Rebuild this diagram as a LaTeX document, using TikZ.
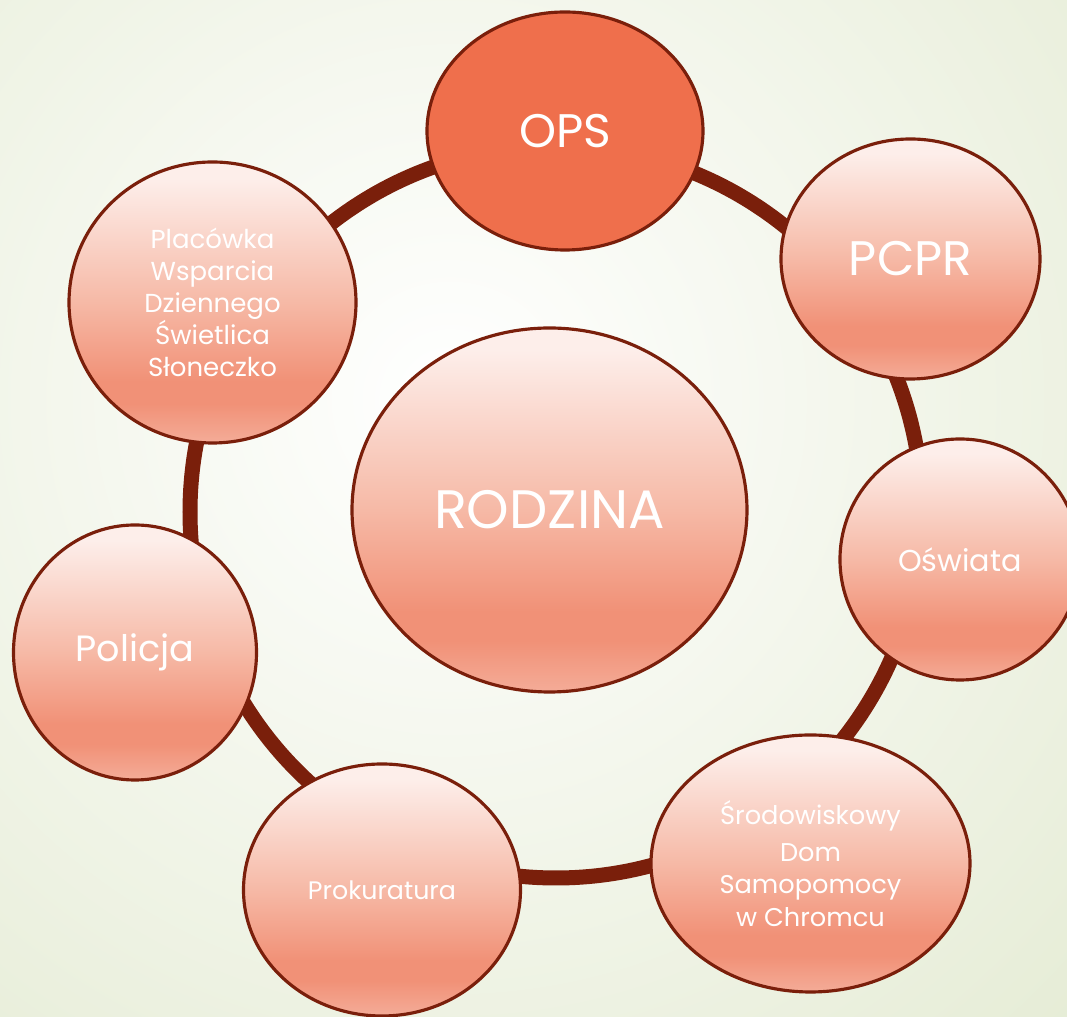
\documentclass[tikz,border=0pt]{standalone}
\usepackage{fontspec}
\setmainfont{Poppins}
\usetikzlibrary{shapes}
\definecolor{rust}{HTML}{7A1F0B}
\definecolor{coral}{HTML}{EF6F4C}
\definecolor{blush}{HTML}{FDEEEA}
\definecolor{peach}{HTML}{F6B9A6}
\definecolor{salmon}{HTML}{F19177}
\definecolor{salmonlow}{HTML}{F4AC98}
\definecolor{sage}{HTML}{E4EBD3}
\pgfdeclareverticalshading{petal}{100bp}{color(0bp)=(salmonlow); color(25bp)=(salmonlow); color(32bp)=(salmon); color(36bp)=(salmon); color(50bp)=(peach); color(72bp)=(blush); color(100bp)=(blush)}

\begin{document}
\begin{tikzpicture}[scale=1,
    bubble/.style={ellipse, draw=rust, line width=0.9pt, text=white, inner sep=0pt, align=center},
    petal/.style={bubble, shade, shading=petal}]
      \useasboundingbox (0,0) rectangle (10.67,-10.17);
      \clip (0,0) rectangle (10.67,-10.17);
      \shade[inner color=white, outer color=sage] (4.5,-4.0) circle (9.5);

      \coordinate (hub) at (5.56,-5.12);
      \draw[rust, line width=0.15cm] (hub) circle (3.66);

      \node[bubble, fill=coral, minimum width=2.76cm, minimum height=2.38cm, font=\fontsize{13.4}{15}\selectfont] (ops) at (5.65,-1.31) {OPS};
      \node[petal, minimum width=2.59cm, minimum height=2.40cm, font=\fontsize{13.8}{15}\selectfont] (pcpr) at (9.105,-2.59) {PCPR};
      \node[petal, minimum width=2.40cm, minimum height=2.41cm, font=\fontsize{8.6}{10}\selectfont] (oswiata) at (9.60,-5.595) {Oświata};
      \node[petal, minimum width=3.19cm, minimum height=2.57cm, font=\fontsize{7.3}{9.3}\selectfont] (sdsm) at (8.105,-8.635) {Środowiskowy\\[1.2pt]Dom\\Samopomocy\\w Chromcu};
      \node[petal, minimum width=2.77cm, minimum height=2.52cm, font=\fontsize{7.2}{9}\selectfont] (prokuratura) at (3.82,-8.90) {Prokuratura};
      \node[petal, minimum width=2.43cm, minimum height=2.55cm, font=\fontsize{10.4}{12}\selectfont] (policja) at (1.35,-6.525) {Policja};
      \node[petal, minimum width=2.87cm, minimum height=2.81cm, font=\fontsize{7.4}{9.1}\selectfont] (placowka) at (2.125,-3.025) {Placówka\\Wsparcia\\Dziennego\\Świetlica\\Słoneczko};

      \node[petal, minimum width=3.95cm, minimum height=3.64cm, font=\fontsize{15.4}{18}\selectfont] (rodzina) at (5.495,-5.10) {RODZINA};
    \end{tikzpicture}
\end{document}
